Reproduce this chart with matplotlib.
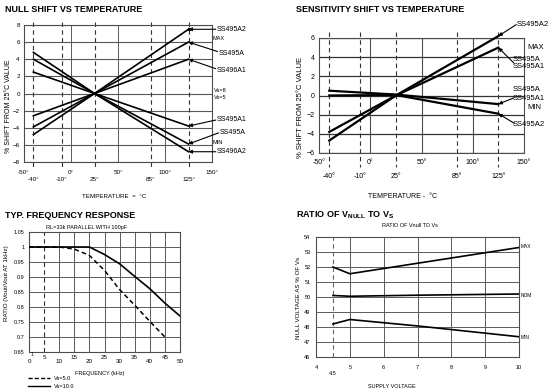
import matplotlib
matplotlib.use("Agg")
import matplotlib.pyplot as plt

plt.rcParams['font.family'] = ['Liberation Sans', 'DejaVu Sans']
plt.rcParams['mathtext.fontset'] = 'custom'
plt.rcParams['mathtext.rm'] = 'Liberation Sans'
plt.rcParams['mathtext.bf'] = 'Liberation Sans:bold'

# null shift vs temperature
null_temp = [-40, 25, 125]
null_a2_max = [-4.8, 0, 7.5]
null_a_max = [-3.9, 0, 6.0]
null_a1_max = [-2.6, 0, 4.0]
null_a1_min = [2.5, 0, -3.8]
null_a_min = [4.0, 0, -5.9]
null_a2_min = [4.8, 0, -6.8]

# sensitivity shift vs temperature
sens_temp = [-40, 25, 125]
sens_a2_max = [-4.7, 0, 6.2]
sens_a_max = [-3.8, 0, 5.0]
sens_a_min = [0.5, 0.1, -0.9]
sens_a2_min = [0.0, 0.05, -1.9]

# frequency response
freq_vs5 = [0, 10, 15, 20, 25, 30, 35, 40, 45]
ratio_vs5 = [1.0, 1.0, 0.993, 0.972, 0.922, 0.858, 0.806, 0.752, 0.70]
freq_vs10 = [0, 20, 25, 30, 35, 40, 45, 50]
ratio_vs10 = [1.0, 1.0, 0.975, 0.944, 0.902, 0.861, 0.813, 0.77]

# ratio of Vnull to Vs
supply_v = [4.5, 5, 7, 10]
vnull_max = [52.0, 51.55, 52.25, 53.3]
vnull_nom = [50.1, 50.05, 50.12, 50.2]
vnull_min = [48.2, 48.5, 48.07, 47.35]

W, H = 559, 389
fig = plt.figure(figsize=(W / 100, H / 100), dpi=100)


def rect(l, t, r, b):
    return [l / W, 1 - b / H, (r - l) / W, (b - t) / H]


def ft(x, y, s, **kw):
    fig.text(x / W, 1 - y / H, s, **kw)


GRID = '0.35'
DASH = (0, (4, 3))


def frame(ax):
    for sp in ax.spines.values():
        sp.set_linewidth(0.8)
        sp.set_color('0.3')
    ax.tick_params(which='both', length=0)


def arrow(ax, xy, end):
    ax.annotate('', xy=xy, xytext=end, annotation_clip=False,
                arrowprops=dict(arrowstyle='-|>', lw=0.8, color='k',
                                mutation_scale=5, shrinkA=0, shrinkB=0))


deg = lambda v: f"{v}\u00b0"

# ---------------- panel 1 ----------------
ax1 = fig.add_axes(rect(24, 25, 212, 162))
frame(ax1)
ax1.set_xlim(-50, 150)
ax1.set_ylim(-8, 8)
for y in range(-8, 9, 2):
    ax1.axhline(y, color=GRID, lw=0.8, zorder=0)
for x in [0, 50, 100]:
    ax1.axvline(x, color=GRID, lw=0.7, zorder=0)
for x in [-40, -10, 25, 85, 125]:
    ax1.plot([x, x], [8.4, -8.8], color='0.2', lw=0.8, ls=DASH, clip_on=False, zorder=1)
for ys in [null_a2_max, null_a_max, null_a1_max, null_a1_min, null_a_min, null_a2_min]:
    ax1.plot(null_temp, ys, color='k', lw=1.2, zorder=3)
ax1.set_yticks(range(-8, 9, 2))
ax1.tick_params(axis='y', labelsize=4.5, pad=3)
ax1.set_xticks([-50, 0, 50, 100, 150], [deg(v) for v in [-50, 0, 50, 100, 150]])
ax1.set_xticks([-40, -10, 25, 85, 125], [deg(v) for v in [-40, -10, 25, 85, 125]], minor=True)
ax1.tick_params(axis='x', which='major', labelsize=4.5, pad=5.5)
ax1.tick_params(axis='x', which='minor', labelsize=4.5, pad=10.5)

lab = dict(fontsize=5, va='center', ha='left', clip_on=False)
small = dict(fontsize=4, va='center', ha='left', clip_on=False)
ax1.plot([125], [7.5], 'k.', ms=3, clip_on=False)
arrow(ax1, (125, 7.5), (154, 7.5))
ax1.text(155, 7.5, 'SS495A2', **lab)
ax1.text(151, 6.4, 'MAX', **small)
arrow(ax1, (125, 6.0), (156, 4.9))
ax1.text(157.5, 4.7, 'SS495A', **lab)
arrow(ax1, (125, 4.0), (154, 2.9))
ax1.text(155, 2.7, 'SS496A1', **lab)
ax1.text(152, 0.3, 'Vs=8', **small)
ax1.text(152, -0.5, 'Vs=5', **small)
arrow(ax1, (125, -3.8), (154, -3.1))
ax1.text(155, -3.0, 'SS495A1', **lab)
arrow(ax1, (125, -5.9), (157, -4.6))
ax1.text(158.5, -4.5, 'SS495A', **lab)
ax1.text(151, -5.7, 'MIN', **small)
arrow(ax1, (125, -6.8), (154, -6.8))
ax1.text(155, -6.8, 'SS496A2', **lab)

ft(5, 10, 'NULL SHIFT VS TEMPERATURE', fontsize=6.5, fontweight='bold', va='center')
ft(9, 106, '% SHIFT FROM 25\u00b0C VALUE', fontsize=5, rotation=90, va='center', ha='center')
ft(114, 197, 'TEMPERATURE  =  \u00b0C', fontsize=4.5, va='center', ha='center')

# ---------------- panel 2 ----------------
ax2 = fig.add_axes(rect(319, 38, 524, 153))
frame(ax2)
ax2.set_xlim(-50, 150)
ax2.set_ylim(-6, 6)
for y in range(-6, 7, 2):
    ax2.axhline(y, color='0.2', lw=0.9, zorder=0)
for x in [0, 50, 100]:
    ax2.axvline(x, color='0.3', lw=0.8, zorder=0)
for x in [-40, -10, 25, 85, 125]:
    ax2.plot([x, x], [6.6, -7.5], color='0.2', lw=0.8, ls=DASH, clip_on=False, zorder=1)
for ys in [sens_a2_max, sens_a_max, sens_a_min, sens_a2_min]:
    ax2.plot(sens_temp, ys, color='k', lw=1.6, zorder=3, clip_on=False)
ax2.set_yticks(range(-6, 7, 2))
ax2.tick_params(axis='y', labelsize=5, pad=3)
ax2.set_xticks([-50, 0, 50, 100, 150], [deg(v) for v in [-50, 0, 50, 100, 150]])
ax2.set_xticks([-40, -10, 25, 85, 125], [deg(v) for v in [-40, -10, 25, 85, 125]], minor=True)
ax2.tick_params(axis='x', which='major', labelsize=5, pad=4.5)
ax2.tick_params(axis='x', which='minor', labelsize=5, pad=14.5)

lab2 = dict(fontsize=5.5, va='center', ha='left', clip_on=False)
arrow(ax2, (125, 6.2), (142.5, 7.4))
ax2.text(143, 7.46, 'SS495A2', **lab2)
ax2.text(153, 4.96, 'MAX', **lab2)
arrow(ax2, (125, 5.0), (140, 3.4))
ax2.text(139, 3.75, 'SS495A', **lab2)
ax2.text(139, 3.05, 'SS495A1', **lab2)
arrow(ax2, (125, -0.9), (140, -0.25))
ax2.text(139, 0.58, 'SS495A', **lab2)
ax2.text(139, -0.36, 'SS495A1', **lab2)
ax2.text(153, -1.3, 'MIN', **lab2)
arrow(ax2, (125, -1.9), (140.5, -2.9))
ax2.text(139, -3.07, 'SS495A2', **lab2)

ft(296, 10, 'SENSITIVITY SHIFT VS TEMPERATURE', fontsize=6.5, fontweight='bold', va='center')
ft(300, 107, '% SHIFT FROM 25\u00b0C VALUE', fontsize=5.5, rotation=90, va='center', ha='center')
ft(403, 197, 'TEMPERATURE -  \u00b0C', fontsize=5, va='center', ha='center')

# ---------------- panel 3 ----------------
ax3 = fig.add_axes(rect(29, 232, 180, 352))
frame(ax3)
ax3.set_xlim(0, 50)
ax3.set_ylim(0.65, 1.05)
for y in [0.65 + 0.05 * i for i in range(9)]:
    ax3.axhline(y, color=GRID, lw=0.7, zorder=0)
for x in range(10, 51, 5):
    ax3.axvline(x, color=GRID, lw=0.7, zorder=0)
ax3.axvline(5, color='0.2', lw=0.8, ls=DASH, zorder=1)
ax3.plot(freq_vs5, ratio_vs5, color='k', lw=1.1, ls=(0, (3, 2)), zorder=3)
ax3.plot(freq_vs10, ratio_vs10, color='k', lw=1.2, zorder=3)
ax3.set_yticks([0.65 + 0.05 * i for i in range(9)],
               ['0.65', '0.7', '0.75', '0.8', '0.85', '0.9', '0.95', '1', '1.05'])
ax3.tick_params(axis='y', labelsize=4, pad=3)
ax3.set_xticks([0, 10, 20, 30, 40, 50], ['0', '10', '20', '30', '40', '50'])
ax3.set_xticks([5, 15, 25, 35, 45], ['5', '15', '25', '35', '45'], minor=True)
ax3.tick_params(axis='x', which='major', labelsize=4.5, pad=5)
ax3.tick_params(axis='x', which='minor', labelsize=4.5, pad=2)
ft(31.5, 354, '1', fontsize=3.5, va='center', ha='center')

ft(5, 215, 'TYP. FREQUENCY RESPONSE', fontsize=6.5, fontweight='bold', va='center')
ft(87, 227, 'RL=33k PARALLEL WITH 100pF', fontsize=4, va='center', ha='center')
ft(7, 283, 'RATIO (Vout/Vout AT 1kHz)', fontsize=4.5, rotation=90, va='center', ha='center')
ft(100, 374, 'FREQUENCY (kHz)', fontsize=4, va='center', ha='center')
fig.add_artist(plt.Line2D([28 / W, 50 / W], [1 - 378 / H] * 2, color='k', lw=1.0, ls=(0, (3, 1.5))))
fig.add_artist(plt.Line2D([28 / W, 50 / W], [1 - 386 / H] * 2, color='k', lw=1.0))
ft(54, 378, 'Vs=5.0', fontsize=4, va='center')
ft(54, 386, 'Vs=10.0', fontsize=4, va='center')

# ---------------- panel 4 ----------------
ax4 = fig.add_axes(rect(316, 237, 519, 357))
frame(ax4)
ax4.set_xlim(4, 10)
ax4.set_ylim(46, 54)
for y in range(46, 55):
    ax4.axhline(y, color=GRID, lw=0.7, zorder=0)
for x in range(5, 10):
    ax4.axvline(x, color=GRID, lw=0.7, zorder=0)
ax4.axvline(4.5, color='0.4', lw=0.8, ls=DASH, zorder=1)
for ys in [vnull_max, vnull_nom, vnull_min]:
    ax4.plot(supply_v, ys, color='k', lw=1.2, zorder=3)
ax4.set_yticks(range(46, 55))
ax4.tick_params(axis='y', labelsize=4, pad=4)
ax4.set_xticks(range(4, 11))
ax4.set_xticks([4.5], ['4.5'], minor=True)
ax4.tick_params(axis='x', which='major', labelsize=4, pad=6)
ax4.tick_params(axis='x', which='minor', labelsize=4, pad=10)
sm4 = dict(fontsize=3.5, va='center', ha='left', clip_on=False)
ax4.text(10.04, 53.35, 'MAX', **sm4)
ax4.text(10.04, 50.1, 'NOM', **sm4)
ax4.text(10.04, 47.3, 'MIN', **sm4)

ft(296, 215, r'RATIO OF V$_{\mathbf{NULL}}$ TO V$_{\mathbf{S}}$', fontsize=6.5, fontweight='bold', va='center')
ft(410, 225, 'RATIO OF Vnull TO Vs', fontsize=4, va='center', ha='center')
ft(299, 298, 'NULL VOLTAGE AS % OF Vs', fontsize=4.5, rotation=90, va='center', ha='center')
ft(392, 386, 'SUPPLY VOLTAGE', fontsize=4, va='center', ha='center')

fig.savefig('out.png', dpi=100)
